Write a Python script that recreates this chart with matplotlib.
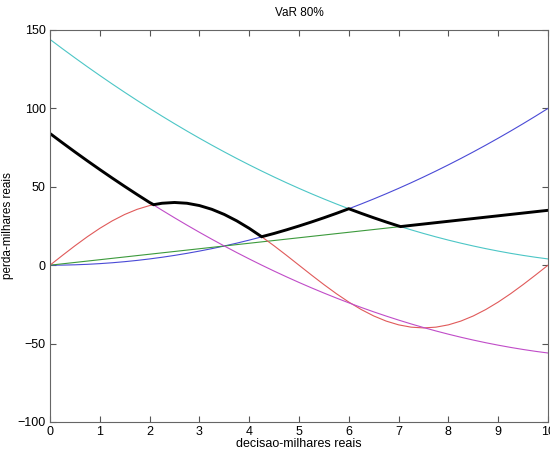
import matplotlib
matplotlib.use("Agg")
import matplotlib.pyplot as plt

plt.rcParams['font.family'] = ['Liberation Sans', 'DejaVu Sans']

x = [0, 0.25, 0.5, 0.75, 1, 1.25, 1.5, 1.75, 2, 2.25, 2.5, 2.75, 3, 3.25, 3.5, 3.75,
     4, 4.25, 4.5, 4.75, 5, 5.25, 5.5, 5.75, 6, 6.25, 6.5, 6.75, 7, 7.25, 7.5, 7.75,
     8, 8.25, 8.5, 8.75, 9, 9.25, 9.5, 9.75, 10]

blue = [0, 0.06, 0.25, 0.56, 1, 1.56, 2.25, 3.06, 4, 5.06, 6.25, 7.56, 9, 10.56, 12.25, 14.06,
        16, 18.06, 20.25, 22.56, 25, 27.56, 30.25, 33.06, 36, 39.06, 42.25, 45.56, 49, 52.56,
        56.25, 60.06, 64, 68.06, 72.25, 76.56, 81, 85.56, 90.25, 95.06, 100]

green = [0, 0.88, 1.75, 2.63, 3.5, 4.38, 5.25, 6.13, 7, 7.88, 8.75, 9.63, 10.5, 11.38, 12.25, 13.13,
         14, 14.88, 15.75, 16.63, 17.5, 18.38, 19.25, 20.13, 21, 21.88, 22.75, 23.63, 24.5, 25.38,
         26.25, 27.13, 28, 28.88, 29.75, 30.63, 31.5, 32.38, 33.25, 34.13, 35]

red = [0, 6.26, 12.36, 18.16, 23.51, 28.28, 32.36, 35.64, 38.04, 39.51, 40, 39.51, 38.04, 35.64,
       32.36, 28.28, 23.51, 18.16, 12.36, 6.26, 0, -6.26, -12.36, -18.16, -23.51, -28.28, -32.36,
       -35.64, -38.04, -39.51, -40, -39.51, -38.04, -35.64, -32.36, -28.28, -23.51, -18.16,
       -12.36, -6.26, 0]

cyan = [144, 138.06, 132.25, 126.56, 121, 115.56, 110.25, 105.06, 100, 95.06, 90.25, 85.56, 81,
        76.56, 72.25, 68.06, 64, 60.06, 56.25, 52.56, 49, 45.56, 42.25, 39.06, 36, 33.06, 30.25,
        27.56, 25, 22.56, 20.25, 18.06, 16, 14.06, 12.25, 10.56, 9, 7.56, 6.25, 5.06, 4]

magenta = [84, 78.06, 72.25, 66.56, 61, 55.56, 50.25, 45.06, 40, 35.06, 30.25, 25.56, 21, 16.56,
           12.25, 8.06, 4, 0.06, -3.75, -7.44, -11, -14.44, -17.75, -20.94, -24, -26.94, -29.75,
           -32.44, -35, -37.44, -39.75, -41.94, -44, -45.94, -47.75, -49.44, -51, -52.44, -53.75,
           -54.94, -56]

var_x = [0, 0.25, 0.5, 0.75, 1, 1.25, 1.5, 1.75, 2, 2.08, 2.25, 2.5, 2.75, 3, 3.25, 3.5, 3.75,
         4, 4.25, 4.5, 4.75, 5, 5.25, 5.5, 5.75, 6, 6.25, 6.5, 6.75, 7, 7.04, 7.25, 7.5, 7.75,
         8, 8.25, 8.5, 8.75, 9, 9.25, 9.5, 9.75, 10]
var_y = [84, 78.06, 72.25, 66.56, 61, 55.56, 50.25, 45.06, 40, 38.6, 39.51, 40, 39.51, 38.04,
         35.64, 32.36, 28.28, 23.51, 18.16, 20.25, 22.56, 25, 27.56, 30.25, 33.06, 36, 33.06,
         30.25, 27.56, 25, 24.63, 25.38, 26.25, 27.13, 28, 28.88, 29.75, 30.63, 31.5, 32.38,
         33.25, 34.13, 35]

fig = plt.figure(figsize=(5.5, 4.51), dpi=100)
ax = fig.add_axes([50/550, 29/451, 498/550, 392/451])

lw = 0.8
ax.plot(x, blue, color='#4a4ad6', lw=lw)
ax.plot(x, green, color='#3c9a3c', lw=lw)
ax.plot(x, red, color='#e05a5a', lw=lw)
ax.plot(x, cyan, color='#4cc6c6', lw=lw)
ax.plot(x, magenta, color='#c04cc8', lw=lw)
ax.plot(var_x, var_y, color='black', lw=2.1, solid_joinstyle='miter')

ax.set_xlim(0, 10)
ax.set_ylim(-100, 150)
ax.set_xticks(range(0, 11))
ax.set_yticks([-100, -50, 0, 50, 100, 150])
ax.tick_params(direction='in', top=True, right=True, length=4, width=0.8,
               colors='#555555', labelsize=9, labelcolor='black', pad=3)
for s in ax.spines.values():
    s.set_color('#666666')
    s.set_linewidth(0.8)

ax.set_title('VaR 80%', fontsize=8.5, pad=10)
ax.set_xlabel('decisao-milhares reais', fontsize=9, labelpad=0)
ax.set_ylabel('perda-milhares reais', fontsize=8.5)
ax.yaxis.set_label_coords(-0.073, 0.5)

fig.savefig('out.png', dpi=100)
